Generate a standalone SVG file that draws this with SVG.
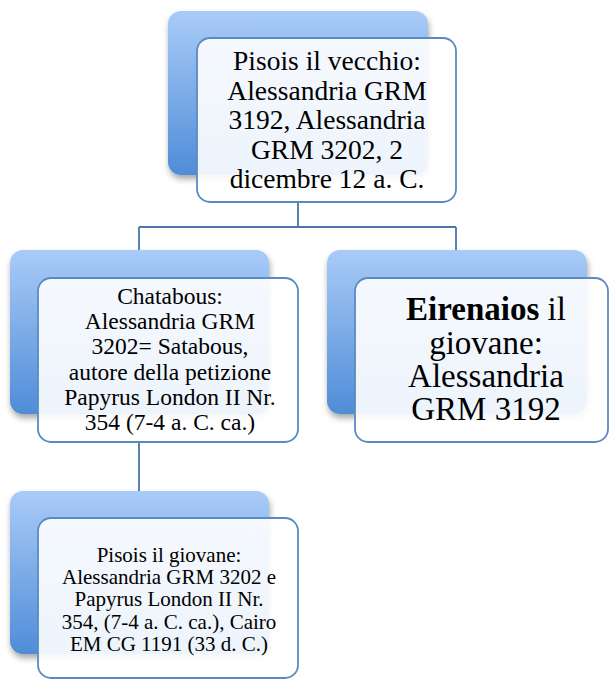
<svg xmlns="http://www.w3.org/2000/svg" width="609" height="679" viewBox="0 0 609 679">
<defs>
<linearGradient id="g" x1="0" y1="0" x2="0" y2="1">
<stop offset="0" stop-color="#a9cbf8"/>
<stop offset="1" stop-color="#4f8dd7"/>
</linearGradient>
<filter id="sh" x="-10%" y="-10%" width="125%" height="130%">
<feDropShadow dx="1" dy="4" stdDeviation="3" flood-color="#000" flood-opacity="0.35"/>
</filter>
</defs>
<style>
.back{fill:url(#g);filter:url(#sh)}
.front{fill:#ffffff;fill-opacity:0.9;stroke:#5a8ac2;stroke-width:1.8}
.t{font-family:"Liberation Serif","Times New Roman",serif;fill:#000;text-anchor:middle}
.c{fill:none;stroke:#4a76aa;stroke-width:1.8}
</style>
<rect width="609" height="679" fill="#ffffff"/>
<g id="connectors">
<path class="c" d="M298 202 V227 M139 227 H456 M139 227 V250 M456 227 V250"/>
<path class="c" d="M139 442 V491"/>
</g>
<g id="node-pisois-vecchio">
<rect class="back" x="168" y="11" width="260" height="164" rx="13"/>
<rect class="front" x="197" y="38" width="259" height="164" rx="13"/>
<text class="t" font-size="27.5"><tspan x="327" y="70">Pisois il vecchio:</tspan><tspan x="327" y="99.5">Alessandria GRM</tspan><tspan x="327" y="129">3192, Alessandria</tspan><tspan x="327" y="158.5">GRM 3202, 2</tspan><tspan x="327" y="188">dicembre 12 a. C.</tspan></text>
</g>
<g id="node-chatabous">
<rect class="back" x="10" y="250" width="259" height="164" rx="13"/>
<rect class="front" x="38" y="278" width="260" height="164" rx="13"/>
<text class="t" font-size="23.5"><tspan x="170" y="304">Chatabous:</tspan><tspan x="170" y="329">Alessandria GRM</tspan><tspan x="170" y="354">3202= Satabous,</tspan><tspan x="170" y="379.5">autore della petizione</tspan><tspan x="170" y="405">Papyrus London II Nr.</tspan><tspan x="170" y="430">354 (7-4 a. C. ca.)</tspan></text>
</g>
<g id="node-eirenaios">
<rect class="back" x="327" y="250" width="260" height="164" rx="13"/>
<rect class="front" x="355" y="278" width="253" height="164" rx="13"/>
<text class="t" font-size="33"><tspan x="486" y="320"><tspan font-weight="bold">Eirenaios</tspan> il</tspan><tspan x="486" y="354">giovane:</tspan><tspan x="486" y="387">Alessandria</tspan><tspan x="486" y="420">GRM 3192</tspan></text>
</g>
<g id="node-pisois-giovane">
<rect class="back" x="10" y="491" width="259" height="163" rx="13"/>
<rect class="front" x="38" y="518" width="260" height="160" rx="13"/>
<text class="t" font-size="21"><tspan x="169" y="562">Pisois il giovane:</tspan><tspan x="169" y="584">Alessandria GRM 3202 e</tspan><tspan x="169" y="606">Papyrus London II Nr.</tspan><tspan x="169" y="628.5">354, (7-4 a. C. ca.), Cairo</tspan><tspan x="169" y="651">EM CG 1191 (33 d. C.)</tspan></text>
</g>
</svg>
